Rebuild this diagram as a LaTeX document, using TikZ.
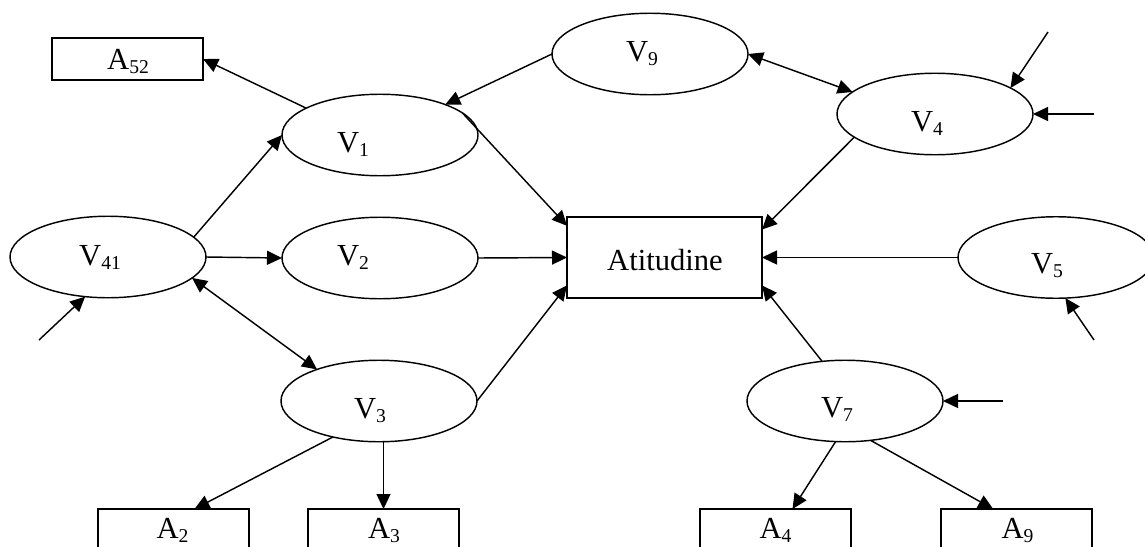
\documentclass[tikz,border=0pt]{standalone}
\usepackage{fontspec}
\setmainfont{Liberation Serif}
\usetikzlibrary{shapes.geometric,arrows.meta}
\newcommand\sbs[1]{\raisebox{-2pt}{\fontsize{9.8pt}{10pt}\selectfont #1}}
\begin{document}
\begin{tikzpicture}[x=0.5pt,y=-0.5pt,
  line width=0.72pt,
  oval/.style={draw,ellipse,inner sep=0pt,outer sep=0pt,minimum width=98pt,minimum height=40.75pt},
  box/.style={draw,rectangle,inner sep=0pt,outer sep=0pt,minimum width=75.5pt,minimum height=21pt},
  bigbox/.style={draw,rectangle,inner sep=0pt,outer sep=0pt,minimum width=97.5pt,minimum height=40.5pt},
  lbl/.style={anchor=base,inner sep=0pt,font=\fontsize{15.3pt}{17pt}\selectfont},
  arr/.style={-{Triangle[length=7.5pt,width=7pt]}},
  bi/.style={{Triangle[length=7.5pt,width=7pt]}-{Triangle[length=7.5pt,width=7pt]}}]
\useasboundingbox (0,0) rectangle (1145,546);
\clip (0,0) rectangle (1145,546);
% shapes
\node[box] (A52) at (127.5,59) {};
\node[oval] (V1) at (380,135) {};
\node[oval] (V9) at (650,54) {};
\node[oval] (V4) at (935,114) {};
\node[oval] (V41) at (108,257) {};
\node[oval] (V2) at (380,258) {};
\node[bigbox] (Att) at (664.5,257.5) {};
\node[oval] (V5) at (1056,257.5) {};
\node[oval] (V3) at (379,401) {};
\node[oval] (V7) at (845,401) {};
\node[box] (A2) at (173.5,530) {};
\node[box] (A3) at (383.5,530) {};
\node[box] (A4) at (775.5,530) {};
\node[box] (A9) at (1016.5,530) {};
% labels
\node[lbl] (tA52) at (128,69) {A\sbs{52}};
\node[lbl] (tV1) at (353,152) {V\sbs{1}};
\node[lbl] (tV9) at (642,61) {V\sbs{9}};
\node[lbl] (tV4) at (927,131) {V\sbs{4}};
\node[lbl] (tV41) at (100,265) {V\sbs{41}};
\node[lbl] (tV2) at (353,265) {V\sbs{2}};
\node[lbl] (tAtt) at (665,270) {Atitudine};
\node[lbl] (tV5) at (1047,273) {V\sbs{5}};
\node[lbl] (tV3) at (370,418) {V\sbs{3}};
\node[lbl] (tV7) at (837,417) {V\sbs{7}};
\node[lbl] (tA2) at (172.5,538) {A\sbs{2}};
\node[lbl] (tA3) at (384,538) {A\sbs{3}};
\node[lbl] (tA4) at (775.5,538) {A\sbs{4}};
\node[lbl] (tA9) at (1017.5,538) {A\sbs{9}};
% free ends
\coordinate (f41) at (39,340);
\coordinate (f4a) at (1048,32);
\coordinate (f4b) at (1094,114);
\coordinate (f5) at (1094,340);
\coordinate (f7) at (1003,401);
% connectors
\draw[arr] (V1.160) -- (A52.east);
\draw[arr] (V41.13) -- (V1.west);
\draw[arr] (V41.east) -- (V2.west);
\draw[bi] (V41.-14) -- (V3.153);
\draw[arr] (f41) -- (V41.240);
\draw[arr] (V9.west) -- (V1.25);
\draw[bi] (V9.east) -- (V4.165);
\draw[arr] (V1.15) -- (Att.162.6);
\draw[arr] (V2.east) -- (Att.west);
\draw[arr] (V3.east) -- (Att.196.8);
\draw[arr] (V4.196.5) -- (Att.16.8);
\draw[arr] (V5.west) -- (Att.east);
\draw[arr] (V7.120) -- (Att.-16.8);
\draw[arr] (f4a) -- (V4.19);
\draw[arr] (f4b) -- (V4.east);
\draw[arr] (f5) -- (V5.-77);
\draw[arr] (f7) -- (V7.east);
\draw[arr] (V3.218.3) -- (A2.45.7);
\draw[arr] (A3.north |- V3.south) -- (A3.north);
\draw[arr] (V7.257.6) -- (A4.51.8);
\draw[arr] (V7.-57.7) -- (A9.138.2);
\end{tikzpicture}
\end{document}
